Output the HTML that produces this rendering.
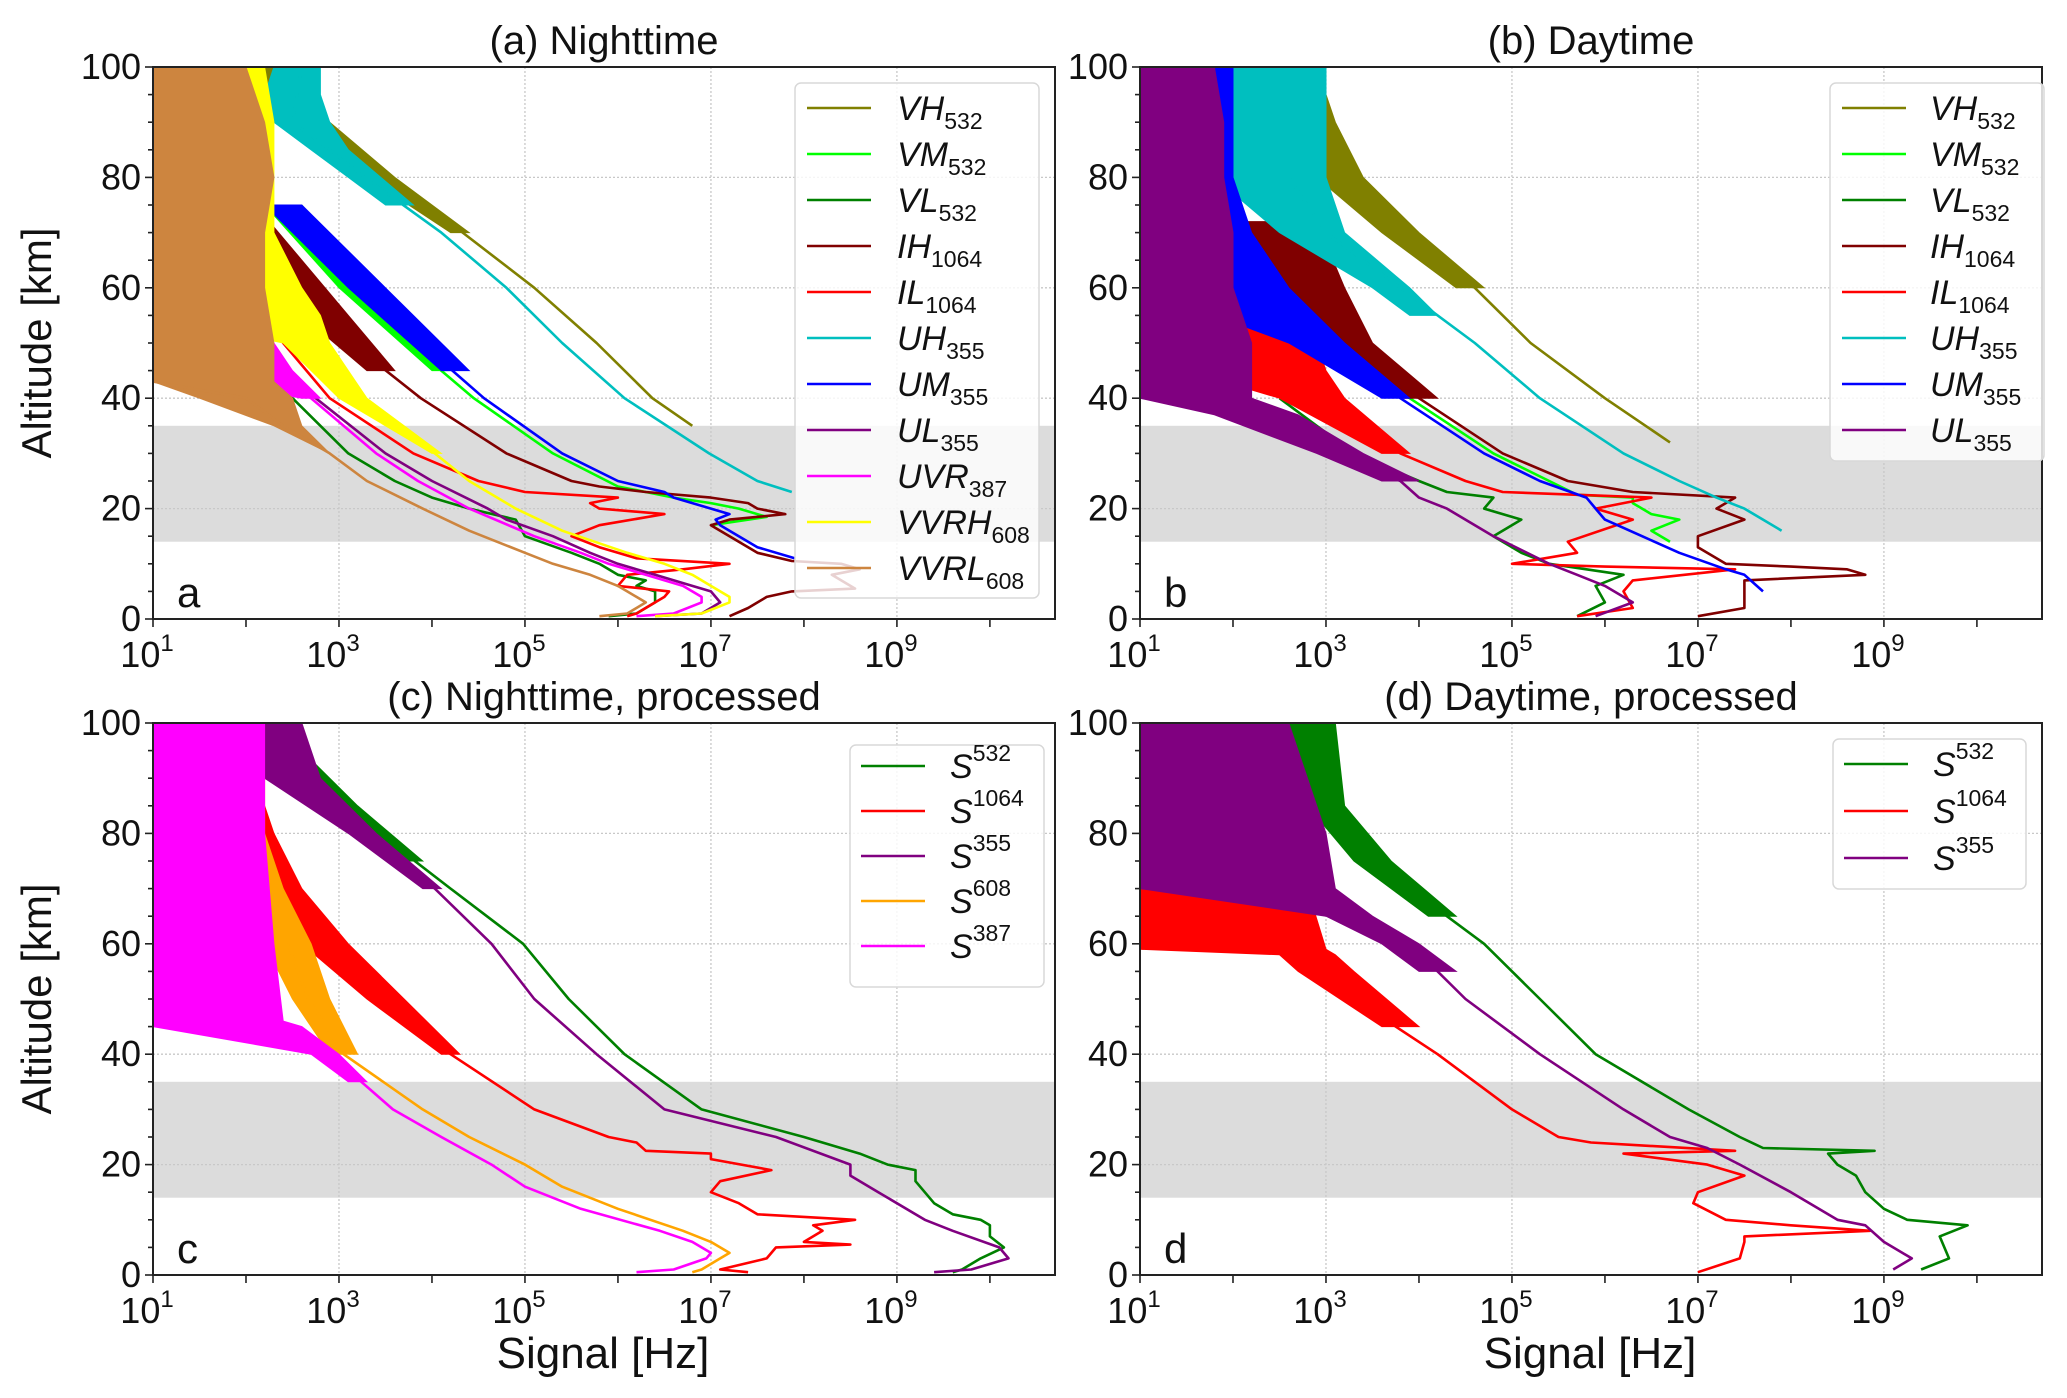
<!DOCTYPE html>
<html><head><meta charset="utf-8"><style>
html,body{margin:0;padding:0;background:#fff}
svg{display:block;font-family:"Liberation Sans",sans-serif}
</style></head><body>
<svg id="fig" xmlns="http://www.w3.org/2000/svg" width="2067" height="1398" viewBox="0 0 2067 1398"></svg>
<script>
// ---------- Panel (a) Nighttime ----------
const aVH_alt=[35,40,50,60,70,80,90,100]; const aVH_val=[6.8,6.37,5.77,5.1,4.33,3.47,2.75,2.15];
const aVH_eA=[70,80,90,100]; const aVH_eL=[4.2,3.3,2.6,2.0]; const aVH_eH=[4.4,3.6,2.9,2.4];
const aVM_alt=[17,18.5,20,21,22,23,24,30,40,50,60,70,75,80]; const aVM_val=[7.0,7.6,7.3,7.0,6.6,6.3,6.0,5.3,4.45,3.75,3.1,2.5,2.2,1.8];
const aVM_eA=[45,60,75]; const aVM_eL=[4.0,3.0,2.2]; const aVM_eH=[4.2,3.4,2.6];
const aVL_alt=[0.5,1,3,5,6,7,8,10,12,15,18,20,22,25,30,40,50,60]; const aVL_val=[5.9,6.2,6.4,6.4,6.2,6.3,6.0,5.8,5.5,5.0,4.9,4.4,4.0,3.6,3.1,2.5,2.0,1.6];
const aIH_alt=[0.5,2,4,5,5.5,8,9,10,10.5,12,15,17,18,19,20,21,22,23,24,25,30,40,50,60,70,80]; const aIH_val=[7.2,7.4,7.6,7.87,8.55,8.3,8.6,8.4,7.87,7.5,7.2,7.0,7.2,7.8,7.5,7.4,7.0,6.3,5.8,5.5,4.8,3.88,3.13,2.6,2.3,1.77];
const aIH_eA=[45,55,65,75]; const aIH_eL=[3.3,2.6,2.2,1.9]; const aIH_eH=[3.6,3.1,2.6,2.1];
const aIL_alt=[0.5,1,3,4,5,6,8,9,10,11,13,15,17,19,20,21,22,23,25,30,40,50,60,70,80]; const aIL_val=[6.1,6.2,6.4,6.5,6.55,6.0,6.1,6.7,7.2,6.2,5.8,5.5,5.8,6.5,5.8,5.7,6.0,5.0,4.5,3.8,2.9,2.4,2.0,1.7,1.5];
const aUH_alt=[23,25,30,40,50,60,70,80,85,90,100]; const aUH_val=[7.87,7.5,6.98,6.07,5.4,4.8,4.1,3.28,2.9,2.5,2.6];
const aUH_eA=[75,80,85,90,95,100]; const aUH_eL=[3.5,3.1,2.7,2.3,2.2,2.3]; const aUH_eH=[3.8,3.45,3.1,2.9,2.8,2.8];
const aUM_alt=[11,13,15,17,18,19,20,22,23,25,30,40,50,60,70,80,85]; const aUM_val=[7.9,7.5,7.3,7.1,7.05,7.2,7.0,6.6,6.5,6.0,5.4,4.56,3.88,3.2,2.6,1.92,1.5];
const aUM_eA=[45,60,75]; const aUM_eL=[4.1,3.1,2.2]; const aUM_eH=[4.4,3.5,2.6];
const aUL_alt=[0.5,1,3,5,6,8,10,12,15,18,20,25,30,40,50,60]; const aUL_val=[6.4,6.9,7.1,7.0,6.8,6.4,6.0,5.7,5.3,4.8,4.6,4.0,3.5,2.75,2.2,1.7];
const aUVR_alt=[0.5,1,3,4,6,8,10,12,15,20,25,30,40,45]; const aUVR_val=[6.2,6.6,6.9,6.9,6.7,6.3,5.9,5.6,5.1,4.4,3.85,3.4,2.7,2.3];
const aUVR_eA=[40,45,50,60,70,80,90,100]; const aUVR_eL=[2.6,1,1,1,1,1,1,1]; const aUVR_eH=[2.8,2.5,2.3,2.1,2.0,1.9,1.9,1.9];
const aVVRH_alt=[0.5,1,3,4,6,8,10,12,16,20,25,30,40,50]; const aVVRH_val=[6.4,6.9,7.2,7.2,7.0,6.8,6.5,6.1,5.4,4.9,4.4,4.03,3.13,2.68];
const aVVRH_eA=[30,40,50,55,60,70,80,90,100]; const aVVRH_eL=[4.0,3.0,2.4,1,1,1,1,1,1]; const aVVRH_eH=[4.1,3.3,2.9,2.8,2.6,2.3,2.3,2.3,2.2];
const aVVRL_alt=[0.5,1,3,4,6,8,10,12,16,20,25,30,35,40,43]; const aVVRL_val=[5.8,6.1,6.3,6.2,6.0,5.7,5.3,5.0,4.4,3.9,3.3,2.9,2.4,2.0,1.0];
const aVVRL_eA=[30,35,40,43,44,50,60,70,80,90,100]; const aVVRL_eL=[2.9,2.3,1.5,1,1,1,1,1,1,1,1]; const aVVRL_eH=[2.9,2.6,2.5,2.3,2.3,2.3,2.2,2.2,2.3,2.2,2.0];
// ---------- Panel (b) Daytime ----------
const bVH_alt=[32,40,50,60,70,80,90,100]; const bVH_val=[6.7,6.0,5.2,4.6,3.8,3.2,2.8,2.6];
const bVH_eA=[60,70,80,90,100]; const bVH_eL=[4.4,3.6,2.9,2.6,2.3]; const bVH_eH=[4.7,4.0,3.4,3.1,2.9];
const bVM_alt=[14,16,18,19,20,21,22,22.5,25,30,40,50,60]; const bVM_val=[6.7,6.5,6.8,6.5,6.4,6.3,6.3,5.7,5.4,4.8,3.9,3.1,2.5];
const bVM_eA=[45,55,65]; const bVM_eL=[3.4,2.6,2.0]; const bVM_eH=[3.7,3.0,2.4];
const bVL_alt=[0.5,3,6,8,9,10,12,15,18,20,22,23,25,30,40]; const bVL_val=[5.7,6.0,5.9,6.2,5.8,5.4,5.1,4.8,5.1,4.7,4.8,4.3,4.0,3.3,2.5];
const bIH_alt=[0.5,2,5,7,8,9,9.5,10,13,15,18,20,21,22,23,25,30,40,50,60,70]; const bIH_val=[7.0,7.5,7.5,7.5,8.8,8.6,8.0,7.3,7.0,7.0,7.5,7.2,7.3,7.4,6.3,5.6,4.9,4.0,3.2,2.6,2.0];
const bIH_eA=[40,50,60,72]; const bIH_eL=[3.8,3.0,2.2,1.0]; const bIH_eH=[4.2,3.5,3.2,2.9];
const bIL_alt=[0.5,2,5,7,9,9.5,10,12,14,18,20,22,23,25,30,40,50,60]; const bIL_val=[5.7,6.3,6.2,6.3,7.4,6.0,5.0,5.7,5.6,6.3,5.9,6.5,4.9,4.5,3.8,2.9,2.3,1.6];
const bIL_eA=[30,40,45,50,60,70]; const bIL_eL=[3.6,2.5,1.5,1,1,1]; const bIL_eH=[3.9,3.2,3.0,2.9,2.4,2.0];
const bUH_alt=[16,18,20,22,25,30,40,50,60,70,80]; const bUH_val=[7.9,7.7,7.5,7.2,6.8,6.2,5.3,4.6,3.8,3.0,2.6];
const bUH_eA=[55,60,70,80,90,100]; const bUH_eL=[3.9,3.5,2.5,1.8,1.6,1.6]; const bUH_eH=[4.2,3.9,3.2,3.0,3.0,3.0];
const bUM_alt=[5,8,9,12,15,18,20,22,25,30,40,50,55,60]; const bUM_val=[7.7,7.5,7.3,6.8,6.4,6.0,5.9,5.8,5.3,4.7,3.8,3.0,2.6,2.3];
const bUM_eA=[40,50,60,70,80,90,100]; const bUM_eL=[3.6,2.6,1,1,1,1,1]; const bUM_eH=[3.9,3.2,2.6,2.2,2.0,2.0,2.0];
const bUL_alt=[0.5,3,6,8,10,15,20,22,25,30,40]; const bUL_val=[5.9,6.3,6.0,5.7,5.4,4.8,4.3,4.0,3.8,3.1,2.1];
const bUL_eA=[25,30,37,40,50,60,70,80,90,100]; const bUL_eL=[3.6,2.9,1.8,1,1,1,1,1,1,1]; const bUL_eH=[4.0,3.4,2.7,2.2,2.2,2.0,2.0,1.9,1.9,1.8];
// ---------- Panel (c) Nighttime processed ----------
const c532_alt=[0.5,1,3,5,7,9,10,11,13,15,17,19,20,22,25,30,40,50,60,70,80,90,100]; const c532_val=[9.6,9.7,9.9,10.15,10.0,10.0,9.9,9.6,9.4,9.3,9.2,9.2,8.9,8.6,8.0,6.9,6.07,5.47,4.98,4.2,3.43,2.75,2.15];
const c532_eA=[75,85,100]; const c532_eL=[3.6,2.8,1.9]; const c532_eH=[3.9,3.2,2.3];
const c1064_alt=[0.5,1,3,5,5.5,6,8,9,10,11,13,15,17,19,21,22,22.5,24,25,30,40,50,60,70,80]; const c1064_val=[7.4,7.1,7.6,7.7,8.5,8.0,8.2,8.1,8.55,7.5,7.3,7.0,7.1,7.65,7.0,7.0,6.3,6.2,5.9,5.1,4.2,3.47,2.75,2.37,1.85];
const c1064_eA=[40,50,60,70,80,90,100]; const c1064_eL=[4.1,3.3,2.6,1,1,1,1]; const c1064_eH=[4.3,3.7,3.1,2.6,2.3,2.1,2.1];
const c355_alt=[0.5,1,3,5,8,10,15,18,20,25,30,40,50,60,70,80,90,100]; const c355_val=[9.4,9.8,10.2,10.1,9.6,9.3,8.8,8.5,8.5,7.7,6.5,5.77,5.1,4.64,4.03,3.28,2.45,2.35];
const c355_eA=[70,80,90,100]; const c355_eL=[3.9,3.1,2.2,2.0]; const c355_eH=[4.1,3.4,2.8,2.6];
const c608_alt=[0.5,1,3,4,6,8,12,16,20,25,30,40,50,60]; const c608_val=[6.8,6.9,7.1,7.2,7.0,6.7,6.0,5.4,5.0,4.4,3.9,3.05,2.67,2.45];
const c608_eA=[40,50,60,70,80,90,100]; const c608_eL=[2.9,2.5,2.2,1,1,1,1]; const c608_eH=[3.2,2.9,2.7,2.4,2.2,2.2,2.1];
const c387_alt=[0.5,1,3,4,6,8,12,16,20,25,30,40,45]; const c387_val=[6.2,6.6,6.95,7.0,6.8,6.45,5.6,5.0,4.64,4.1,3.58,2.9,2.37];
const c387_eA=[35,40,45,46,60,80,100]; const c387_eL=[3.1,2.7,1,1,1,1,1]; const c387_eH=[3.3,3.0,2.6,2.4,2.3,2.2,2.2];
// ---------- Panel (d) Daytime processed ----------
const d532_alt=[1,3,7,9,10,12,15,18,20,22,22.5,23,25,30,40,50,60,70,80,90,100]; const d532_val=[9.4,9.7,9.6,9.9,9.25,9.0,8.8,8.7,8.5,8.4,8.9,7.7,7.45,6.9,5.9,5.3,4.7,3.9,3.2,2.9,2.9];
const d532_eA=[65,75,85,100]; const d532_eL=[4.1,3.3,2.8,2.6]; const d532_eH=[4.4,3.7,3.2,3.1];
const d1064_alt=[0.5,3,6,7,8,9,10,13,15,18,20,22,22.5,24,25,30,40,50,55,58]; const d1064_val=[7.0,7.45,7.5,7.5,8.85,8.0,7.3,6.95,7.0,7.5,7.1,6.2,7.4,5.85,5.5,5.0,4.2,3.3,2.9,2.8];
const d1064_eA=[45,55,58,59,70,80,90,100]; const d1064_eL=[3.6,2.7,2.5,1,1,1,1,1]; const d1064_eH=[4.0,3.3,3.1,3.0,2.8,2.5,2.1,2.0];
const d355_alt=[1,3,6,9,10,15,20,23,25,30,40,50,60,70]; const d355_val=[9.1,9.3,9.0,8.8,8.5,8.0,7.45,7.1,6.7,6.2,5.3,4.5,3.9,2.7];
const d355_eA=[55,60,65,70,80,90,100]; const d355_eL=[4.0,3.6,3.0,1,1,1,1]; const d355_eH=[4.4,4.0,3.5,3.1,3.0,2.8,2.6];
// axis ticks
const xTickExps=[1,3,5,7,9];
const yTicks=[0,20,40,60,80,100];
const xMin=1, xMax=10.7, yMin=0, yMax=100;
const bandLo=14, bandHi=35;

const NS='http://www.w3.org/2000/svg';
const svg=document.getElementById('fig');
function mk(tag,attrs,parent){const e=document.createElementNS(NS,tag);for(const k in attrs)e.setAttribute(k,attrs[k]);(parent||svg).appendChild(e);return e;}

const panels=[
 {id:'a',x0:153,y0:67,title:'(a) Nighttime',letter:'a',
  series:[['VH','532','#808000',aVH_alt,aVH_val,aVH_eA,aVH_eL,aVH_eH],['VM','532','#00ff00',aVM_alt,aVM_val,aVM_eA,aVM_eL,aVM_eH],['VL','532','#008000',aVL_alt,aVL_val],
   ['IH','1064','#800000',aIH_alt,aIH_val,aIH_eA,aIH_eL,aIH_eH],['IL','1064','#ff0000',aIL_alt,aIL_val],['UH','355','#00bfbf',aUH_alt,aUH_val,aUH_eA,aUH_eL,aUH_eH],
   ['UM','355','#0000ff',aUM_alt,aUM_val,aUM_eA,aUM_eL,aUM_eH],['UL','355','#800080',aUL_alt,aUL_val],['UVR','387','#ff00ff',aUVR_alt,aUVR_val,aUVR_eA,aUVR_eL,aUVR_eH],
   ['VVRH','608','#ffff00',aVVRH_alt,aVVRH_val,aVVRH_eA,aVVRH_eL,aVVRH_eH],['VVRL','608','#cd853f',aVVRL_alt,aVVRL_val,aVVRL_eA,aVVRL_eL,aVVRL_eH]],
  sup:false,leg:{x:795,y:83,w:244,h:515,lx:807,tx:897,ty:108,dy:46}},
 {id:'b',x0:1140,y0:67,title:'(b) Daytime',letter:'b',
  series:[['VH','532','#808000',bVH_alt,bVH_val,bVH_eA,bVH_eL,bVH_eH],['VM','532','#00ff00',bVM_alt,bVM_val,bVM_eA,bVM_eL,bVM_eH],['VL','532','#008000',bVL_alt,bVL_val],
   ['IH','1064','#800000',bIH_alt,bIH_val,bIH_eA,bIH_eL,bIH_eH],['IL','1064','#ff0000',bIL_alt,bIL_val,bIL_eA,bIL_eL,bIL_eH],['UH','355','#00bfbf',bUH_alt,bUH_val,bUH_eA,bUH_eL,bUH_eH],
   ['UM','355','#0000ff',bUM_alt,bUM_val,bUM_eA,bUM_eL,bUM_eH],['UL','355','#800080',bUL_alt,bUL_val,bUL_eA,bUL_eL,bUL_eH]],
  sup:false,leg:{x:1830,y:83,w:214,h:378,lx:1842,tx:1930,ty:108,dy:46}},
 {id:'c',x0:153,y0:723,title:'(c) Nighttime, processed',letter:'c',
  series:[['S','532','#008000',c532_alt,c532_val,c532_eA,c532_eL,c532_eH],['S','1064','#ff0000',c1064_alt,c1064_val,c1064_eA,c1064_eL,c1064_eH],
   ['S','355','#800080',c355_alt,c355_val,c355_eA,c355_eL,c355_eH],['S','608','#ffa500',c608_alt,c608_val,c608_eA,c608_eL,c608_eH],['S','387','#ff00ff',c387_alt,c387_val,c387_eA,c387_eL,c387_eH]],
  sup:true,leg:{x:850,y:745,w:194,h:242,lx:861,tx:950,ty:766,dy:45}},
 {id:'d',x0:1140,y0:723,title:'(d) Daytime, processed',letter:'d',
  series:[['S','532','#008000',d532_alt,d532_val,d532_eA,d532_eL,d532_eH],['S','1064','#ff0000',d1064_alt,d1064_val,d1064_eA,d1064_eL,d1064_eH],
   ['S','355','#800080',d355_alt,d355_val,d355_eA,d355_eL,d355_eH]],
  sup:true,leg:{x:1833,y:739,w:193,h:150,lx:1844,tx:1933,ty:764,dy:47}}
];
const W=902,H=552;

panels.forEach(p=>{
  const sx=v=>p.x0+(v-xMin)/(xMax-xMin)*W;
  const sy=a=>p.y0+H-(a-yMin)/(yMax-yMin)*H;
  const g=mk('g',{});
  
  
  const clipId='clip'+p.id;
  const cp=mk('clipPath',{id:clipId},g); mk('rect',{x:p.x0,y:p.y0,width:W,height:H},cp);
  const band=mk('rect',{x:p.x0,y:sy(bandHi),width:W,height:sy(bandLo)-sy(bandHi),fill:'#dcdcdc'},g);
  
  
  xTickExps.forEach(e=>{mk('line',{x1:sx(e),x2:sx(e),y1:p.y0,y2:p.y0+H,stroke:'#c8c8c8','stroke-width':1.3,'stroke-dasharray':'2,2'},g);});
  yTicks.forEach(t=>{mk('line',{x1:p.x0,x2:p.x0+W,y1:sy(t),y2:sy(t),stroke:'#c8c8c8','stroke-width':1.3,'stroke-dasharray':'2,2'},g);});
  const plot=mk('g',{'clip-path':'url(#'+clipId+')'},g);
  p.series.forEach(s=>{
    const [nm,wl,col,alt,val,eA,eL,eH]=s;
    if(eA){
      let pts=[];
      for(let i=0;i<eA.length;i++)pts.push(sx(eL[i]).toFixed(1)+','+sy(eA[i]).toFixed(1));
      for(let i=eA.length-1;i>=0;i--)pts.push(sx(eH[i]).toFixed(1)+','+sy(eA[i]).toFixed(1));
      const pg=mk('polygon',{points:pts.join(' '),fill:col,stroke:col,'stroke-width':1},plot);
      
      
    }
    const pts=alt.map((a,i)=>sx(val[i]).toFixed(1)+','+sy(a).toFixed(1)).join(' ');
    const pl=mk('polyline',{points:pts,fill:'none',stroke:col,'stroke-width':2.6,'stroke-linejoin':'round'},plot);
    
    
  });
  mk('rect',{x:p.x0,y:p.y0,width:W,height:H,fill:'none',stroke:'#222','stroke-width':2},g);
  for(let e=1;e<=10;e++){mk('line',{x1:sx(e),x2:sx(e),y1:p.y0+H,y2:p.y0+H+8,stroke:'#222','stroke-width':1.6},g);}
  xTickExps.forEach(e=>{
    const t=mk('text',{x:sx(e)-6,y:p.y0+H+48,'font-size':36,'text-anchor':'middle',fill:'#111'},g);
    
    
    t.appendChild(document.createTextNode('10'));
    const ts=mk('tspan',{'font-size':24,dy:-16},t); ts.textContent=e;
  });
  for(let a=0;a<=100;a+=5){mk('line',{x1:p.x0-(a%20===0?8:5),x2:p.x0,y1:sy(a),y2:sy(a),stroke:'#222','stroke-width':1.6},g);}
  yTicks.forEach(a=>{
    const t=mk('text',{x:p.x0-12,y:sy(a)+12,'font-size':36,'text-anchor':'end',fill:'#111'},g);
    
    
    t.textContent=a;
  });
  const ti=mk('text',{x:p.x0+W/2,y:p.y0-13,'font-size':40,'text-anchor':'middle',fill:'#111'},g);
  
  
  ti.textContent=p.title;
  const le=mk('text',{x:p.x0+24,y:p.y0+H-12,'font-size':42,fill:'#111'},g);
  
  
  le.textContent=p.letter;
  const L=p.leg;
  const lg=mk('g',{},g);
  
  
  mk('rect',{x:L.x,y:L.y,width:L.w,height:L.h,rx:6,fill:'#fff','fill-opacity':0.82,stroke:'#d8d8d8','stroke-width':1.5},lg);
  p.series.forEach((s,i)=>{
    const y=L.ty+i*L.dy;
    const en=mk('g',{},lg);
    
    
    mk('line',{x1:L.lx,x2:L.lx+64,y1:y,y2:y,stroke:s[2],'stroke-width':2.6},en);
    const t=mk('text',{x:L.tx,y:y+12,'font-size':34,fill:'#111'},en);
    const a=mk('tspan',{'font-style':'italic'},t); a.textContent=s[0];
    const b=mk('tspan',{'font-size':23,dy:p.sup?-17:9},t); b.textContent=s[1];
  });
});
[[40,343],[40,999]].forEach(([x,y])=>{
  const t=mk('text',{x:x,y:y,'font-size':42,'text-anchor':'middle',fill:'#111',transform:'rotate(-90 '+x+' '+y+')','dominant-baseline':'middle'});
  
  
  t.textContent='Altitude [km]';
});
[603,1590].forEach(x=>{
  const t=mk('text',{x:x,y:1368,'font-size':44,'text-anchor':'middle',fill:'#111'});
  
  
  t.textContent='Signal [Hz]';
});
</script>
</body></html>
